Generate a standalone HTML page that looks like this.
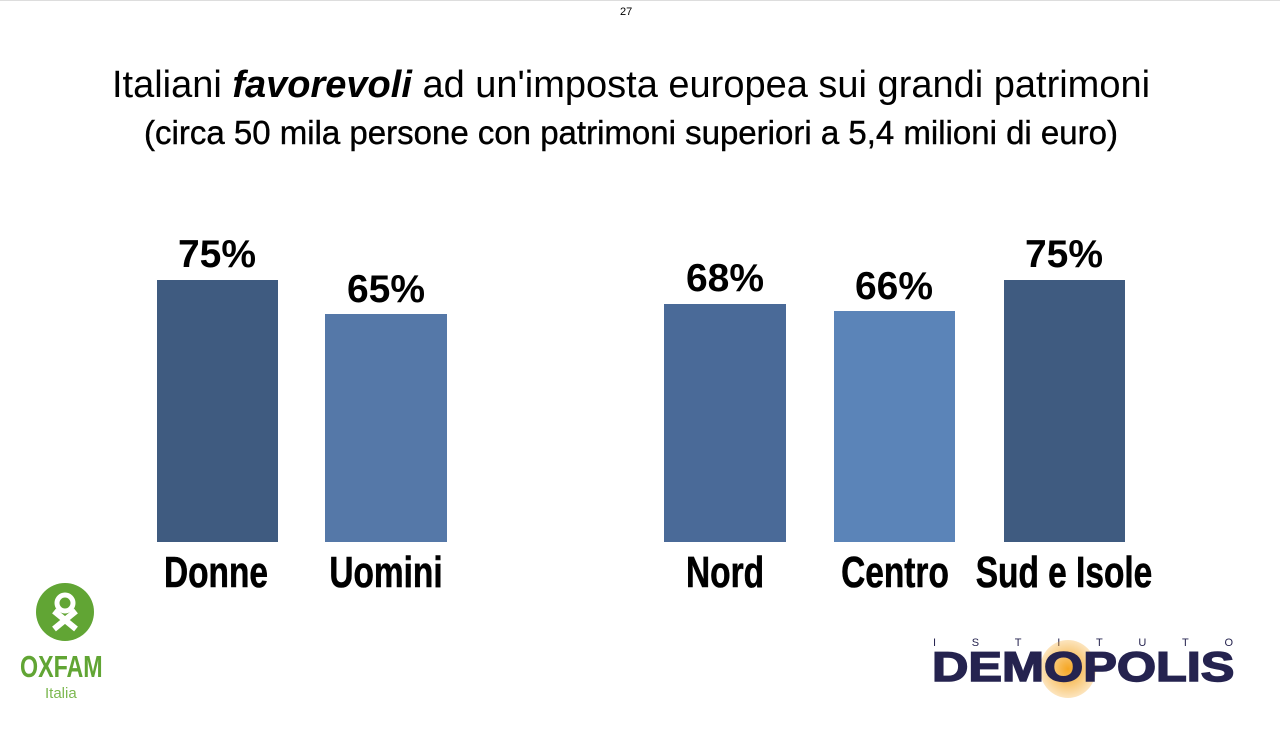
<!DOCTYPE html>
<html><head><meta charset="utf-8"><style>
body{margin:0;width:1280px;height:737px;background:#fff;position:relative;overflow:hidden;font-family:"Liberation Sans",sans-serif}
.a{position:absolute}
.bar{position:absolute}
.v{position:absolute;font-weight:bold;font-size:39px;text-align:center;width:160px;color:#000}
.l{position:absolute;top:548px;font-weight:bold;font-size:44px;text-align:center;width:240px;color:#000;transform:scaleX(0.76);transform-origin:center;-webkit-text-stroke:0.6px #000}
</style></head><body>
<div class="a" style="left:0;top:0;width:1280px;height:1px;background:#ddd"></div>
<div class="a" style="left:620px;top:6px;font-size:11px">27</div>
<div class="a" style="left:0;width:1262px;top:64px;text-align:center;font-size:38px">Italiani <b><i>favorevoli</i></b> ad un'imposta europea sui grandi patrimoni</div>
<div class="a" style="left:0;width:1262px;top:114px;text-align:center;font-size:33px;-webkit-text-stroke:0.4px #000">(circa 50 mila persone con patrimoni superiori a 5,4 milioni di euro)</div>

<div class="bar" style="left:157px;width:121px;top:280px;height:262px;background:#3f5b80"></div>
<div class="bar" style="left:325px;width:122px;top:314px;height:228px;background:#5578a8"></div>
<div class="bar" style="left:664px;width:122px;top:304px;height:238px;background:#4a6a98"></div>
<div class="bar" style="left:834px;width:121px;top:311px;height:231px;background:#5b84b8"></div>
<div class="bar" style="left:1004px;width:121px;top:280px;height:262px;background:#3f5b80"></div>

<div class="v" style="left:137px;top:233px">75%</div>
<div class="v" style="left:306px;top:268px">65%</div>
<div class="v" style="left:645px;top:257px">68%</div>
<div class="v" style="left:814px;top:265px">66%</div>
<div class="v" style="left:984px;top:233px">75%</div>

<div class="l" style="left:96px">Donne</div>
<div class="l" style="left:266px">Uomini</div>
<div class="l" style="left:605px">Nord</div>
<div class="l" style="left:775px">Centro</div>
<div class="l" style="left:944px">Sud e Isole</div>

<svg class="a" style="left:34px;top:581px" width="62" height="62" viewBox="0 0 62 62">
<circle cx="31" cy="31" r="29" fill="#61a534"/>
<circle cx="31" cy="22" r="8" fill="none" stroke="#fff" stroke-width="5"/>
<path d="M20 48 L42 30 M42 48 L20 30" stroke="#fff" stroke-width="6"/>
</svg>
<div class="a" style="left:20px;top:649px;font-weight:bold;font-size:31px;color:#61a534;transform:scaleX(0.75);transform-origin:left">OXFAM</div>
<div class="a" style="left:45px;top:685px;font-size:15px;color:#7cb850">Italia</div>

<div class="a" style="left:933px;top:637px;width:300px;font-size:11px;color:#25234f;display:flex;justify-content:space-between"><span>I</span><span>S</span><span>T</span><span>I</span><span>T</span><span>U</span><span>T</span><span>O</span></div>
<div class="a" style="left:1040px;top:640px;width:56px;height:58px;border-radius:50%;background:radial-gradient(#f5a623,rgba(245,166,35,0.3) 70%,transparent)"></div>
<div class="a" style="left:932px;top:643px;font-weight:bold;font-size:42px;color:#25234f;transform:scaleX(1.2);transform-origin:left;-webkit-text-stroke:1.5px #25234f">DEMOPOLIS</div>
</body></html>
